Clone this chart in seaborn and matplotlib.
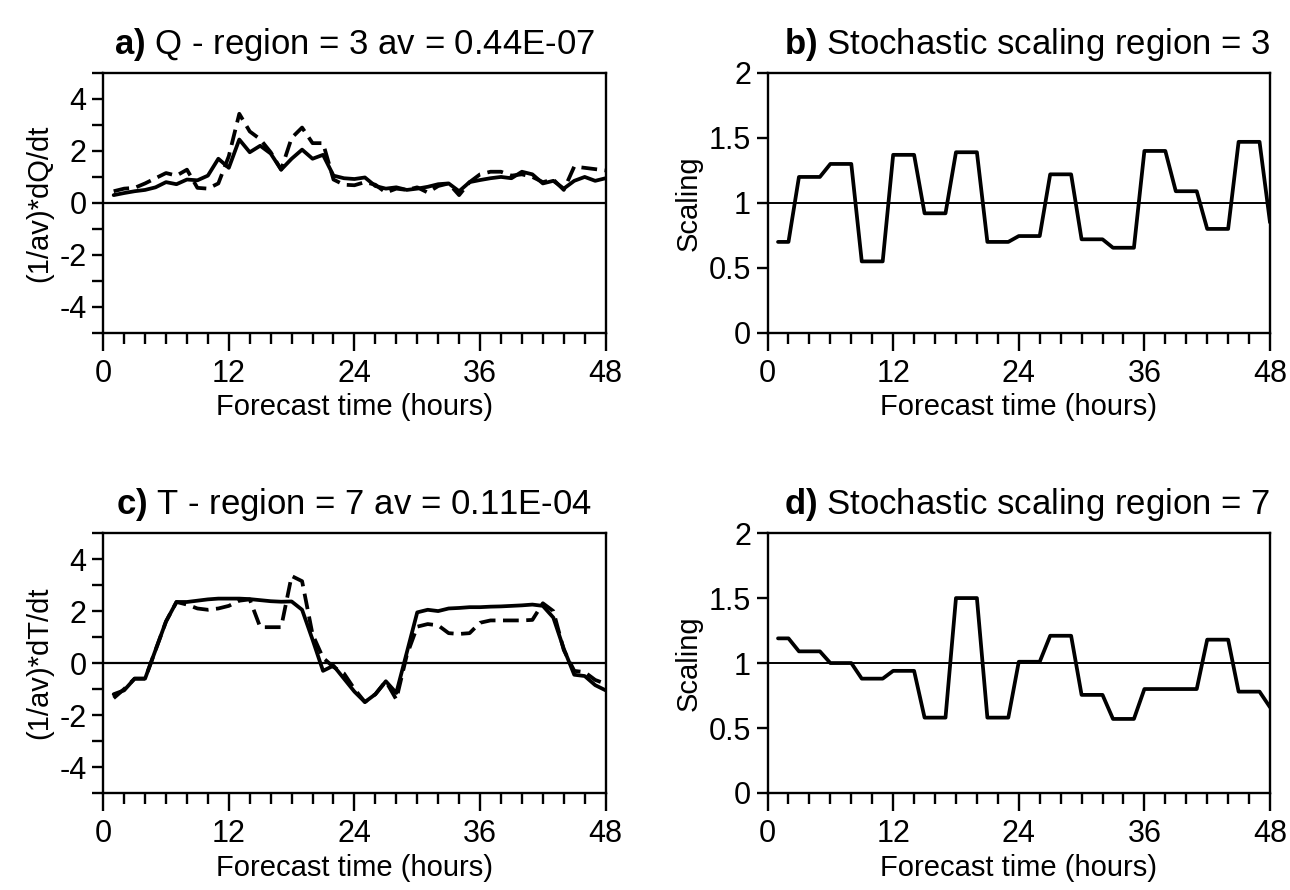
import matplotlib
matplotlib.use("Agg")
import matplotlib.pyplot as plt
import seaborn as sns
import pandas as pd
from matplotlib.ticker import MultipleLocator

# forecast hours 1..48
hours = list(range(1, 49))

# a) Q tendency, region 3 (scaled by av)
q_solid = [0.30, 0.38, 0.45, 0.50, 0.60, 0.80, 0.72, 0.90, 0.87, 1.05,
           1.70, 1.35, 2.44, 1.95, 2.20, 1.90, 1.28, 1.70, 2.05, 1.70,
           1.85, 1.05, 0.95, 0.92, 0.98, 0.65, 0.55, 0.60, 0.50, 0.55,
           0.62, 0.72, 0.75, 0.45, 0.80, 0.88, 0.95, 1.00, 0.95, 1.20,
           1.10, 0.75, 0.85, 0.55, 0.85, 1.00, 0.85, 0.95]
q_dash = [0.45, 0.55, 0.58, 0.75, 0.95, 1.15, 1.05, 1.28, 0.58, 0.55,
          0.75, 1.80, 3.43, 2.75, 2.45, 1.95, 1.28, 2.50, 2.90, 2.30,
          2.30, 0.90, 0.70, 0.68, 0.80, 0.70, 0.40, 0.55, 0.50, 0.60,
          0.40, 0.65, 0.75, 0.30, 0.80, 1.10, 1.20, 1.20, 1.05, 1.10,
          1.00, 0.80, 0.90, 0.50, 1.40, 1.35, 1.30, 1.25]

# b) stochastic scaling, region 3
scale_r3 = [0.70, 0.70, 1.20, 1.20, 1.20, 1.30, 1.30, 1.30, 0.55, 0.55,
            0.55, 1.37, 1.37, 1.37, 0.92, 0.92, 0.92, 1.39, 1.39, 1.39,
            0.70, 0.70, 0.70, 0.745, 0.745, 0.745, 1.22, 1.22, 1.22, 0.72,
            0.72, 0.72, 0.655, 0.655, 0.655, 1.40, 1.40, 1.40, 1.09, 1.09,
            1.09, 0.80, 0.80, 0.80, 1.47, 1.47, 1.47, 0.85]

# c) T tendency, region 7 (scaled by av)
t_solid = [-1.20, -1.05, -0.60, -0.60, 0.50, 1.60, 2.35, 2.35, 2.40, 2.45,
           2.48, 2.48, 2.48, 2.46, 2.42, 2.38, 2.36, 2.37, 2.05, 0.90,
           -0.30, -0.10, -0.60, -1.10, -1.50, -1.20, -0.70, -1.15, 0.40, 1.95,
           2.05, 2.00, 2.10, 2.12, 2.15, 2.15, 2.17, 2.18, 2.20, 2.22,
           2.25, 2.20, 1.75, 0.55, -0.45, -0.50, -0.85, -1.05]
t_dash = [-1.35, -1.00, -0.60, -0.60, 0.50, 1.60, 2.35, 2.25, 2.10, 2.05,
          2.10, 2.20, 2.40, 2.45, 1.38, 1.38, 1.38, 3.35, 3.15, 1.10,
          0.20, -0.15, -0.40, -1.00, -1.50, -1.20, -0.70, -1.40, 0.30, 1.40,
          1.50, 1.45, 1.15, 1.12, 1.15, 1.55, 1.64, 1.64, 1.64, 1.64,
          1.66, 2.30, 2.00, 0.50, -0.30, -0.35, -0.65, -0.80]

# d) stochastic scaling, region 7
scale_r7 = [1.19, 1.19, 1.09, 1.09, 1.09, 1.00, 1.00, 1.00, 0.88, 0.88,
            0.88, 0.94, 0.94, 0.94, 0.58, 0.58, 0.58, 1.50, 1.50, 1.50,
            0.58, 0.58, 0.58, 1.01, 1.01, 1.01, 1.21, 1.21, 1.21, 0.755,
            0.755, 0.755, 0.57, 0.57, 0.57, 0.80, 0.80, 0.80, 0.80, 0.80,
            0.80, 1.18, 1.18, 1.18, 0.78, 0.78, 0.78, 0.66]

titles = [r"$\mathbf{a)}$ Q - region = 3 av = 0.44E-07",
          r"$\mathbf{b)}$ Stochastic scaling region = 3",
          r"$\mathbf{c)}$ T - region = 7 av = 0.11E-04",
          r"$\mathbf{d)}$ Stochastic scaling region = 7"]
ylabels = ["(1/av)*dQ/dt", "Scaling", "(1/av)*dT/dt", "Scaling"]
xlabel = "Forecast time (hours)"

sns.set_theme(style="ticks")
plt.rcParams["font.family"] = ["Liberation Sans", "DejaVu Sans"]
plt.rcParams["mathtext.fontset"] = "custom"
plt.rcParams["mathtext.rm"] = "Liberation Sans"
plt.rcParams["mathtext.bf"] = "Liberation Sans:bold"
plt.rcParams["axes.unicode_minus"] = False
plt.rcParams["text.color"] = "black"
plt.rcParams["axes.labelcolor"] = "black"

fig = plt.figure(figsize=(12.9, 8.9), dpi=100)
W = 0.3895
H = 0.292
axes = [fig.add_axes([0.080, 0.626, W, H]),
        fig.add_axes([0.595, 0.626, W, H]),
        fig.add_axes([0.080, 0.109, W, H]),
        fig.add_axes([0.595, 0.109, W, H])]

tend = [(q_solid, q_dash), None, (t_solid, t_dash), None]
scal = [None, scale_r3, None, scale_r7]

for i, ax in enumerate(axes):
    if tend[i] is not None:
        solid, dash = tend[i]
        ax.axhline(0, color="black", lw=1.6, zorder=1)
        df = pd.DataFrame({"hour": hours, "solid": solid, "dash": dash})
        sns.lineplot(data=df, x="hour", y="solid", color="black", lw=2.7, ax=ax)
        sns.lineplot(data=df, x="hour", y="dash", color="black", lw=2.7,
                     linestyle="--", ax=ax)
        ax.lines[-1].set_dashes((4.2, 2.0))
        ax.set_ylim(-5, 5)
        ax.yaxis.set_minor_locator(MultipleLocator(1))
        ax.set_yticks([-4, -2, 0, 2, 4])
        title_loc = "center"
    else:
        ax.axhline(1, color="black", lw=1.4, zorder=1)
        df = pd.DataFrame({"hour": hours, "scaling": scal[i]})
        sns.lineplot(data=df, x="hour", y="scaling", color="black", lw=2.7, ax=ax)
        ax.set_ylim(0, 2)
        ax.set_yticks([0, 0.5, 1, 1.5, 2])
        ax.set_yticklabels(["0", "0.5", "1", "1.5", "2"])
        title_loc = "right"

    ax.set_xlim(0, 48)
    ax.set_xticks([0, 12, 24, 36, 48])
    ax.xaxis.set_minor_locator(MultipleLocator(2))

    for s in ax.spines.values():
        s.set_linewidth(1.7)
        s.set_color("black")
    ax.tick_params(axis="both", which="both", direction="out", color="black",
                   width=1.7, labelsize=22, labelcolor="black")
    ax.tick_params(axis="x", which="major", length=13, pad=6)
    ax.tick_params(axis="x", which="minor", length=8)
    ax.tick_params(axis="y", which="both", length=8, pad=4)

    ax.set_xlabel(xlabel, fontsize=21, labelpad=3)
    ax.set_ylabel(ylabels[i], fontsize=21, labelpad=4)
    ax.set_title(titles[i], fontsize=25, pad=14, loc=title_loc)

fig.savefig("out.png", dpi=100)
plt.close(fig)
